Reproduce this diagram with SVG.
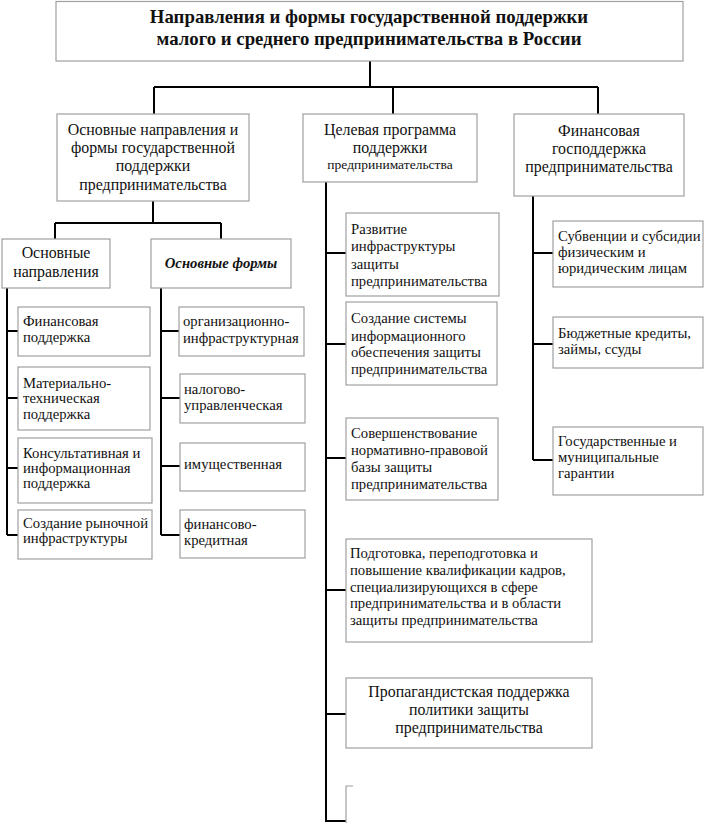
<svg xmlns="http://www.w3.org/2000/svg" width="706" height="823" viewBox="0 0 706 823">
<style>
.box{fill:#fff;stroke:#a0a0a0;stroke-width:1.2}
.ln{fill:none;stroke:#000;stroke-width:2}
text{font-family:"Liberation Serif","Times New Roman",serif;fill:#111}
.t{font-size:18.8px;font-weight:bold;text-anchor:middle}
.h{font-size:15.9px;text-anchor:middle}
.hs{font-size:13.5px;text-anchor:middle}
.s{font-size:14.7px}
.sl{font-size:14.7px}
.bi{font-size:14.7px;font-weight:bold;font-style:italic;text-anchor:middle}
</style>
<rect width="706" height="823" fill="#fff"/>
<g id="connectors">
<path class="ln" d="M370 61V87M154 87H598M154 87V114M393 87V114M598 87V114"/>
<path class="ln" d="M153 201V223M55 223H221M55 223V239M221 223V239"/>
<path class="ln" d="M7 288V535M7 331H18M7 398H18M7 468H18M7 535H18"/>
<path class="ln" d="M161 288V535M161 331H179M161 398H180M161 466H180M161 535H180"/>
<path class="ln" d="M326 182V822M326 253H346M326 344H346M326 458H346M326 590H346M326 714H346M326 821H346"/>
<path class="ln" d="M533 196V460M533 253H553M533 344H553M533 460H553"/>
</g>
<g id="title"><rect class="box" x="56" y="1.5" width="627" height="59.5"/>
<text class="t" x="369" y="23">Направления и формы государственной поддержки</text>
<text class="t" x="369" y="45">малого и среднего предпринимательства в России</text></g>
<g id="n-main-left"><rect class="box" x="57" y="114" width="192" height="87"/>
<text class="h" x="153" y="135">Основные направления и</text>
<text class="h" x="153" y="153">формы государственной</text>
<text class="h" x="153" y="171">поддержки</text>
<text class="h" x="153" y="190">предпринимательства</text></g>
<g id="n-main-mid"><rect class="box" x="303" y="114" width="174" height="68"/>
<text class="h" x="390" y="135">Целевая программа</text>
<text class="h" x="390" y="153">поддержки</text>
<text class="hs" x="390" y="169">предпринимательства</text></g>
<g id="n-main-right"><rect class="box" x="514" y="114" width="170" height="82"/>
<text class="h" x="599" y="136">Финансовая</text>
<text class="h" x="599" y="154">господдержка</text>
<text class="h" x="599" y="172">предпринимательства</text></g>
<g id="n-dir"><rect class="box" x="2" y="239" width="108" height="49"/>
<text class="h" x="56" y="258">Основные</text>
<text class="h" x="56" y="277">направления</text></g>
<g id="n-forms"><rect class="box" x="151" y="239" width="140" height="49"/>
<text class="bi" x="221" y="268">Основные формы</text></g>
<g id="n-d1"><rect class="box" x="18" y="307" width="132" height="49"/>
<text class="sl" x="23" y="326">Финансовая</text>
<text class="sl" x="23" y="342">поддержка</text></g>
<g id="n-d2"><rect class="box" x="18" y="367" width="132" height="63"/>
<text class="sl" x="23" y="388">Материально-</text>
<text class="sl" x="23" y="403">техническая</text>
<text class="sl" x="23" y="419">поддержка</text></g>
<g id="n-d3"><rect class="box" x="18" y="438" width="134" height="65"/>
<text class="sl" x="23" y="458">Консультативная и</text>
<text class="sl" x="23" y="473">информационная</text>
<text class="sl" x="23" y="488">поддержка</text></g>
<g id="n-d4"><rect class="box" x="18" y="510" width="134" height="49"/>
<text class="sl" x="23" y="528">Создание рыночной</text>
<text class="sl" x="23" y="543">инфраструктуры</text></g>
<g id="n-f1"><rect class="box" x="179" y="307" width="125" height="49"/>
<text class="sl" x="183" y="326">организационно-</text>
<text class="sl" x="183" y="343">инфраструктурная</text></g>
<g id="n-f2"><rect class="box" x="180" y="374" width="125" height="49"/>
<text class="sl" x="184" y="394">налогово-</text>
<text class="sl" x="184" y="410">управленческая</text></g>
<g id="n-f3"><rect class="box" x="180" y="443" width="125" height="48"/>
<text class="sl" x="184" y="469">имущественная</text></g>
<g id="n-f4"><rect class="box" x="180" y="510" width="125" height="48"/>
<text class="sl" x="184" y="529">финансово-</text>
<text class="sl" x="184" y="545">кредитная</text></g>
<g id="n-p1"><rect class="box" x="346" y="213" width="153" height="83"/>
<text class="s" x="351" y="234">Развитие</text>
<text class="s" x="351" y="251">инфраструктуры</text>
<text class="s" x="351" y="269">защиты</text>
<text class="s" x="351" y="286">предпринимательства</text></g>
<g id="n-p2"><rect class="box" x="346" y="302" width="151" height="83"/>
<text class="s" x="351" y="323">Создание системы</text>
<text class="s" x="351" y="341">информационного</text>
<text class="s" x="351" y="357">обеспечения защиты</text>
<text class="s" x="351" y="374">предпринимательства</text></g>
<g id="n-p3"><rect class="box" x="346" y="418" width="152" height="82"/>
<text class="s" x="351" y="438">Совершенствование</text>
<text class="s" x="351" y="455">нормативно-правовой</text>
<text class="s" x="351" y="472">базы защиты</text>
<text class="s" x="351" y="489">предпринимательства</text></g>
<g id="n-p4"><rect class="box" x="346" y="539" width="246" height="103"/>
<text class="s" x="350" y="558">Подготовка, переподготовка и</text>
<text class="s" x="350" y="575">повышение квалификации кадров,</text>
<text class="s" x="350" y="592">специализирующихся в сфере</text>
<text class="s" x="350" y="608">предпринимательства и в области</text>
<text class="s" x="350" y="625">защиты предпринимательства</text></g>
<g id="n-p5"><rect class="box" x="346" y="678" width="246" height="70"/>
<text class="h" x="469" y="697">Пропагандистская поддержка</text>
<text class="h" x="469" y="715">политики защиты</text>
<text class="h" x="469" y="733">предпринимательства</text></g>
<g id="n-p6"><path d="M353 786H346V823" fill="none" stroke="#a0a0a0" stroke-width="1.2"/></g>
<g id="n-r1"><rect class="box" x="553" y="221" width="150" height="66"/>
<text class="s" x="558" y="241">Субвенции и субсидии</text>
<text class="s" x="558" y="257">физическим и</text>
<text class="s" x="558" y="273">юридическим лицам</text></g>
<g id="n-r2"><rect class="box" x="553" y="317" width="150" height="51"/>
<text class="s" x="558" y="338">Бюджетные кредиты,</text>
<text class="s" x="558" y="354">займы, ссуды</text></g>
<g id="n-r3"><rect class="box" x="553" y="427" width="150" height="68"/>
<text class="s" x="558" y="446">Государственные и</text>
<text class="s" x="558" y="462">муниципальные</text>
<text class="s" x="558" y="478">гарантии</text></g>
</svg>
